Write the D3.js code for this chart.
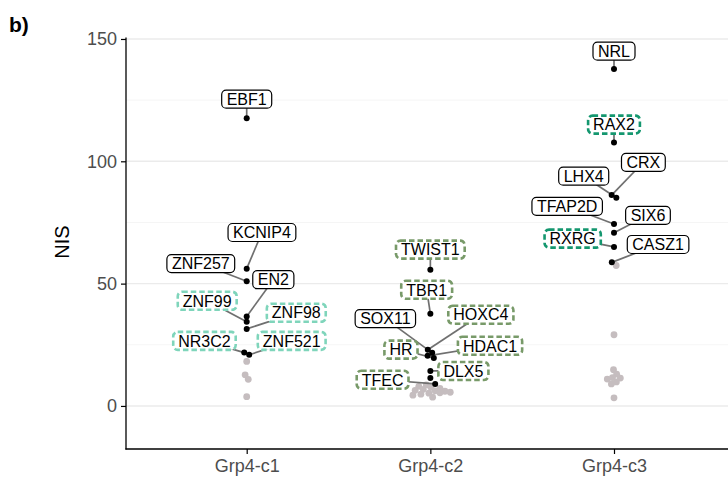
<!DOCTYPE html>
<html>
<head>
<meta charset="utf-8">
<script src="https://cdn.jsdelivr.net/npm/d3@7/dist/d3.min.js"></script>
<style>
  body { margin: 0; background: #fff; }
  svg { font-family: "Liberation Sans", Arial, sans-serif; }
</style>
</head>
<body>
<svg id="chart" width="728" height="482"></svg>
<script>
// categories
const groups = ["Grp4-c1", "Grp4-c2", "Grp4-c3"];
const yTicks = [0, 50, 100, 150];

// labelled genes: group, NIS value, box style
const genes  = ["EBF1", "KCNIP4", "ZNF257", "EN2", "ZNF99", "ZNF98", "NR3C2", "ZNF521",
                "TWIST1", "TBR1", "SOX11", "HOXC4", "HR", "HDAC1", "DLX5", "TFEC",
                "NRL", "RAX2", "CRX", "LHX4", "TFAP2D", "SIX6", "RXRG", "CASZ1"];
const geneGroup = [0, 0, 0, 0, 0, 0, 0, 0,
                   1, 1, 1, 1, 1, 1, 1, 1,
                   2, 2, 2, 2, 2, 2, 2, 2];
const geneNIS = [117.6, 56.1, 51.0, 36.6, 34.4, 31.5, 21.8, 20.9,
                 55.7, 37.7, 21.7, 23.0, 19.6, 20.5, 14.3, 9.0,
                 137.7, 107.7, 86.2, 85.1, 74.4, 70.8, 65.0, 58.7];
const geneType = ["tf", "tf", "tf", "tf", "znf", "znf", "znf", "znf",
                  "c2", "c2", "tf", "c2", "c2", "c2", "c2", "c2",
                  "tf", "rx", "tf", "tf", "tf", "tf", "rx", "tf"];
// where ggrepel put each label (offset in category steps, NIS)
const labelDx = [0, 0.083, -0.25, 0.145, -0.215, 0.27, -0.23, 0.245,
                 0, -0.02, -0.245, 0.275, -0.16, 0.325, 0.18, -0.26,
                 0, 0, 0.16, -0.165, -0.255, 0.185, -0.225, 0.24];
const labelNIS = [125.4, 70.9, 58.2, 51.6, 43.0, 38.1, 26.6, 26.6,
                  63.9, 47.5, 35.7, 37.3, 23.0, 24.6, 14.3, 10.7,
                  145.0, 115.0, 99.6, 93.9, 81.6, 77.9, 68.4, 66.0];

// unlabelled black points
const extraGroup = [1];
const extraNIS = [11.4];

// background (grey) points per group
const greyC1 = [18.2, 12.7, 10.9, 3.8];
const greyC2 = [8.6, 8.0, 7.6, 7.2, 6.8, 6.4, 6.0, 5.6, 5.2, 4.8, 4.4, 3.6, 6.2, 5.4];
const greyC3 = [57.4, 29.1, 14.8, 13.0, 11.6, 11.4, 11.0, 9.8, 9.0, 3.3];

const boxStroke = { tf: "#000000", znf: "#7fd5bb", c2: "#789a69", rx: "#14976f" };

const margin = {top: 38, left: 126, bottom: 33};
const W = 728, H = 482;
const width = W - margin.left, height = H - margin.top - margin.bottom;

const svg = d3.select("#chart");
const g = svg.append("g").attr("transform", `translate(${margin.left},${margin.top})`);

const x = d3.scalePoint().domain(groups).range([120.7, 488]);
const step = x.step();
const y = d3.scaleLinear().domain([-17.6, 150.4]).range([height, 0]);

// grid
const minor = [25, 75, 125];
g.selectAll(".minor").data(minor).enter().append("line")
    .attr("x1", 0).attr("x2", width)
    .attr("y1", d => y(d)).attr("y2", d => y(d))
    .attr("stroke", "#f3f3f3").attr("stroke-width", 0.8);
g.selectAll(".major").data(yTicks).enter().append("line")
    .attr("x1", 0).attr("x2", width)
    .attr("y1", d => y(d)).attr("y2", d => y(d))
    .attr("stroke", "#ebebeb").attr("stroke-width", 1.4);

// points
const nodes = [];
const greys = [greyC1, greyC2, greyC3];
greys.forEach((arr, gi) => arr.forEach(v => nodes.push({g: gi, v: v, grey: true})));
genes.forEach((name, i) => nodes.push({g: geneGroup[i], v: geneNIS[i], grey: false, idx: i}));
extraNIS.forEach((v, i) => nodes.push({g: extraGroup[i], v: v, grey: false}));
nodes.forEach(n => { n.x = x(groups[n.g]); n.fy = y(n.v); n.y = n.fy; });

// beeswarm-style dodge
const sim = d3.forceSimulation(nodes)
    .force("x", d3.forceX(d => x(groups[d.g])).strength(0.15))
    .force("collide", d3.forceCollide(2.7))
    .stop();
for (let i = 0; i < 300; i++) sim.tick();

g.selectAll(".grey").data(nodes.filter(d => d.grey)).enter().append("circle")
    .attr("cx", d => d.x).attr("cy", d => d.fy).attr("r", 3.4)
    .attr("fill", "#c5bdbf");

// segments
const labelled = nodes.filter(d => d.idx !== undefined);
labelled.forEach(d => {
  d.lx = x(groups[d.g]) + labelDx[d.idx] * step;
  d.ly = y(labelNIS[d.idx]);
});
g.selectAll(".seg").data(labelled).enter().append("line")
    .attr("x1", d => d.x).attr("y1", d => d.fy)
    .attr("x2", d => d.lx).attr("y2", d => d.ly)
    .attr("stroke", "#707070").attr("stroke-width", 1.7);

g.selectAll(".pt").data(nodes.filter(d => !d.grey)).enter().append("circle")
    .attr("cx", d => d.x).attr("cy", d => d.fy).attr("r", 3)
    .attr("fill", "#000");

// labels
const lab = g.selectAll(".lab").data(labelled).enter().append("g")
    .attr("transform", d => `translate(${d.lx},${d.ly})`);
lab.append("rect");
lab.append("text")
    .attr("text-anchor", "middle").attr("dy", "0.36em")
    .attr("font-size", 16).attr("fill", "#000")
    .text(d => genes[d.idx]);
lab.each(function(d) {
  const tw = d3.select(this).select("text").node().getComputedTextLength();
  const t = geneType[d.idx];
  d3.select(this).select("rect")
      .attr("x", -tw / 2 - 5).attr("y", -9)
      .attr("width", tw + 10).attr("height", 18)
      .attr("rx", 4.5)
      .attr("fill", "#fff")
      .attr("stroke", boxStroke[t])
      .attr("stroke-width", t === "tf" ? 1.2 : 2.6)
      .attr("stroke-dasharray", t === "tf" ? null : "5.5,3");
});

// axes
const yAxis = g.append("g").call(d3.axisLeft(y).tickValues(yTicks).tickSize(5).tickPadding(4));
yAxis.select(".domain").remove();
yAxis.selectAll(".tick line").attr("stroke", "#000").attr("stroke-width", 1.2);
yAxis.selectAll(".tick text").attr("font-size", 18).attr("fill", "#4d4d4d")
    .attr("font-family", "Liberation Sans, Arial, sans-serif");

const xAxis = g.append("g").attr("transform", `translate(0,${height})`)
    .call(d3.axisBottom(x).tickSize(5).tickPadding(5));
xAxis.select(".domain").remove();
xAxis.selectAll(".tick line").attr("stroke", "#000").attr("stroke-width", 1.2);
xAxis.selectAll(".tick text").attr("font-size", 18).attr("fill", "#4d4d4d")
    .attr("font-family", "Liberation Sans, Arial, sans-serif");

g.append("line").attr("x1", 0).attr("x2", 0).attr("y1", -0.5).attr("y2", height + 0.6)
    .attr("stroke", "#000").attr("stroke-width", 1.3);
g.append("line").attr("x1", -0.6).attr("x2", width).attr("y1", height).attr("y2", height)
    .attr("stroke", "#000").attr("stroke-width", 1.3);

// titles
svg.append("text")
    .attr("transform", `translate(69,${margin.top + y(67)}) rotate(-90)`)
    .attr("text-anchor", "middle").attr("font-size", 20).attr("fill", "#000")
    .text("NIS");
svg.append("text").attr("x", 9).attr("y", 32)
    .attr("font-size", 21).attr("font-weight", "bold").attr("fill", "#000")
    .text("b)");
</script>
</body>
</html>
